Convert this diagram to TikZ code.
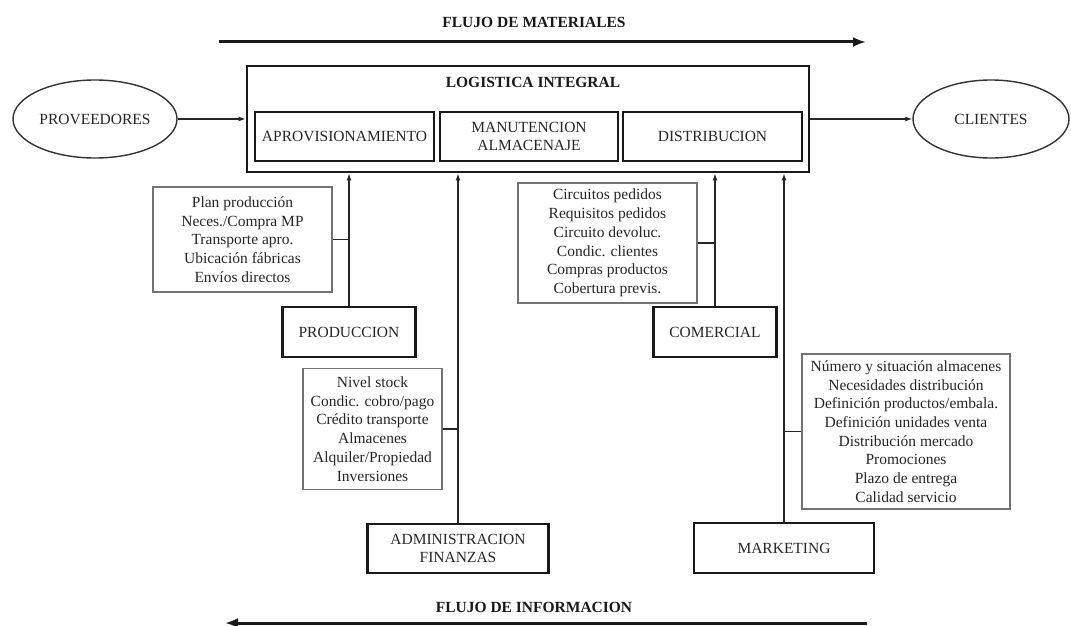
\documentclass[tikz,border=0pt]{standalone}
\usepackage{fontspec}
\setmainfont{Liberation Serif}
\usetikzlibrary{arrows.meta,shapes.geometric}
\begin{document}
\begin{tikzpicture}[x=1pt,y=-1pt,
  txt/.style={font=\fontsize{15.5}{18.7}\selectfont, text=black!85, align=center},
  head/.style={font=\fontsize{15.5}{18.7}\selectfont\bfseries, text=black!90},
  dept/.style={txt, draw=black!90, line width=2.4pt, inner sep=0pt},
  info/.style={txt, draw=black!55, line width=1.3pt, inner sep=0pt},
  oval/.style={txt, ellipse, draw=black!80, line width=1.4pt, inner sep=0pt},
  link/.style={draw=black!85, line width=1.2pt},
  feed/.style={link, -{Latex[length=7pt,width=5pt]}},
  flow/.style={draw=black!90, line width=3pt, -{Latex[length=13pt,width=10pt]}}
]
\useasboundingbox (0,0) rectangle (1071,626);

% material flow
\coordinate (matA) at (219,42);
\coordinate (matB) at (866,42);
\draw[flow] (matA) -- (matB);
\node[head] (matlbl) at (534,22) {FLUJO DE MATERIALES};

% integral logistics block
\node[draw=black!90, line width=2.8pt, minimum width=562pt, minimum height=106pt, inner sep=0pt] (outer) at (528,119) {};
\node[head] (title) at (533,82) {LOGISTICA INTEGRAL};
\node[dept, minimum width=179pt, minimum height=49pt] (aprov) at (344.5,136.5) {APROVISIONAMIENTO};
\node[dept, minimum width=178pt, minimum height=49pt] (manut) at (529,136.5) {MANUTENCION\\ALMACENAJE};
\node[dept, minimum width=179pt, minimum height=49pt] (distr) at (712.5,136.5) {DISTRIBUCION};

% suppliers and customers
\node[oval, minimum width=164pt, minimum height=78pt] (prov) at (95,119) {PROVEEDORES};
\node[oval, minimum width=156pt, minimum height=78pt] (cli) at (991,119) {CLIENTES};
\draw[feed] (prov) -- (outer.west |- prov);
\draw[feed] (outer.east |- cli) -- (cli);

% production
\node[info, minimum width=179pt, minimum height=105pt] (planbox) at (242.5,239.5)
  {Plan producción\\Neces./Compra MP\\Transporte apro.\\Ubicación fábricas\\Envíos directos};
\node[dept, minimum width=133pt, minimum height=50pt] (prod) at (349,332) {PRODUCCION};
\draw[feed] (prod.north) -- (prod.north |- outer.south);
\draw[link] (planbox.east) -- (planbox.east -| prod.north);

% administration and finance
\node[info, minimum width=139pt, minimum height=121pt] (finbox) at (372.5,429)
  {Nivel stock\\Condic. cobro/pago\\Crédito transporte\\Almacenes\\Alquiler/Propiedad\\Inversiones};
\node[dept, minimum width=181pt, minimum height=49pt] (admin) at (458,548.5) {ADMINISTRACION\\FINANZAS};
\draw[feed] (admin.north) -- (admin.north |- outer.south);
\draw[link] (finbox.east) -- (finbox.east -| admin.north);

% commercial
\node[info, minimum width=179pt, minimum height=120pt] (combox) at (607.5,243)
  {Circuitos pedidos\\Requisitos pedidos\\Circuito devoluc.\\Condic. clientes\\Compras productos\\Cobertura previs.};
\node[dept, minimum width=123pt, minimum height=50pt] (comer) at (715,332) {COMERCIAL};
\draw[feed] (comer.north) -- (comer.north |- outer.south);
\draw[link] (combox.east) -- (combox.east -| comer.north);

% marketing
\node[info, minimum width=208pt, minimum height=155pt] (mktbox) at (906,431.5)
  {Número y situación almacenes\\Necesidades distribución\\Definición productos/embala.\\Definición unidades venta\\Distribución mercado\\Promociones\\Plazo de entrega\\Calidad servicio};
\node[dept, minimum width=180pt, minimum height=50pt] (mkt) at (784,548) {MARKETING};
\draw[feed] (mkt.north) -- (mkt.north |- outer.south);
\draw[link] (mktbox.west) -- (mktbox.west -| mkt.north);

% information flow
\node[head] (inflbl) at (534,607) {FLUJO DE INFORMACION};
\coordinate (infA) at (867,623);
\coordinate (infB) at (225,623);
\draw[flow] (infA) -- (infB);
\end{tikzpicture}
\end{document}
